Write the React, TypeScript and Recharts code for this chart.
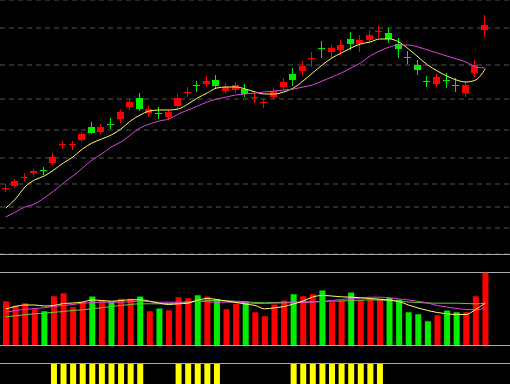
import { Bar, BarChart, CartesianGrid, Cell, ComposedChart, Line, XAxis, YAxis } from "recharts";

// daily candles (price units, 51 sessions)
const opens = [10.65, 10.68, 10.76, 10.81, 10.84, 10.91, 11.09, 11.09, 11.14, 11.27, 11.22, 11.3, 11.35, 11.47, 11.56, 11.41, 11.41, 11.37, 11.48, 11.61, 11.69, 11.7, 11.74, 11.63, 11.64, 11.65, 11.56, 11.51, 11.57, 11.67, 11.8, 11.83, 11.95, 12.06, 12.02, 12.04, 12.15, 12.1, 12.14, 12.22, 12.21, 12.1, 11.97, 11.89, 11.73, 11.7, 11.74, 11.69, 11.61, 11.81, 12.24];
const highs = [10.7, 10.75, 10.81, 10.85, 10.87, 11.01, 11.13, 11.13, 11.22, 11.32, 11.3, 11.36, 11.44, 11.55, 11.61, 11.48, 11.47, 11.44, 11.6, 11.67, 11.73, 11.78, 11.79, 11.71, 11.72, 11.7, 11.61, 11.55, 11.66, 11.76, 11.86, 11.93, 12.02, 12.13, 12.09, 12.14, 12.22, 12.19, 12.24, 12.28, 12.26, 12.16, 12.03, 11.94, 11.78, 11.8, 11.81, 11.76, 11.72, 11.94, 12.39];
const lows = [10.62, 10.66, 10.73, 10.77, 10.79, 10.89, 11.05, 11.04, 11.12, 11.2, 11.2, 11.25, 11.31, 11.44, 11.43, 11.37, 11.35, 11.34, 11.45, 11.57, 11.62, 11.67, 11.65, 11.61, 11.61, 11.57, 11.51, 11.46, 11.55, 11.64, 11.68, 11.78, 11.87, 11.96, 11.96, 11.99, 12.04, 12.02, 12.11, 12.16, 12.11, 11.96, 11.9, 11.79, 11.67, 11.67, 11.66, 11.62, 11.57, 11.77, 12.17];
const closes = [10.66, 10.73, 10.77, 10.83, 10.83, 10.97, 11.1, 11.1, 11.2, 11.21, 11.27, 11.29, 11.42, 11.52, 11.45, 11.45, 11.4, 11.42, 11.56, 11.62, 11.68, 11.73, 11.68, 11.67, 11.69, 11.6, 11.57, 11.52, 11.63, 11.72, 11.74, 11.88, 11.96, 12.05, 12.06, 12.09, 12.1, 12.14, 12.19, 12.23, 12.15, 12.05, 11.96, 11.84, 11.72, 11.77, 11.73, 11.68, 11.69, 11.89, 12.29];

// moving averages as drawn (they carry history from before the window)
const ma5 = [10.46, 10.55, 10.67, 10.74, 10.78, 10.84, 10.91, 10.97, 11.05, 11.11, 11.15, 11.19, 11.25, 11.33, 11.39, 11.43, 11.44, 11.44, 11.45, 11.5, 11.56, 11.61, 11.66, 11.67, 11.67, 11.65, 11.62, 11.6, 11.6, 11.62, 11.66, 11.73, 11.81, 11.89, 11.96, 12.01, 12.06, 12.1, 12.12, 12.15, 12.15, 12.12, 12.05, 11.97, 11.89, 11.83, 11.78, 11.74, 11.72, 11.74, 11.85];
const ma10 = [10.37, 10.42, 10.47, 10.5, 10.56, 10.63, 10.71, 10.78, 10.86, 10.94, 11.0, 11.07, 11.12, 11.19, 11.26, 11.3, 11.33, 11.35, 11.4, 11.44, 11.48, 11.52, 11.55, 11.57, 11.59, 11.6, 11.61, 11.62, 11.63, 11.64, 11.65, 11.67, 11.69, 11.73, 11.77, 11.81, 11.86, 11.91, 11.98, 12.03, 12.07, 12.09, 12.09, 12.07, 12.04, 12.01, 11.98, 11.95, 11.92, 11.87, 11.86];

// volume (hands) and its averages
const volumes = [44300, 40000, 42300, 36700, 34300, 49300, 52300, 38300, 43300, 49000, 45000, 43300, 46700, 46700, 49000, 34300, 37000, 35000, 48300, 47300, 50300, 49000, 46300, 36300, 41700, 44000, 33300, 29300, 41000, 45000, 51300, 49300, 51300, 55000, 43300, 45000, 53000, 45700, 45700, 46300, 47700, 45700, 33300, 31300, 24300, 30300, 35000, 33300, 33300, 49300, 72700];
const volMa5 = [36500, 39000, 40500, 40500, 39500, 40000, 42000, 42500, 43500, 45500, 45000, 44300, 45000, 45700, 45700, 44300, 42300, 41000, 41700, 42300, 45300, 47000, 46000, 44500, 43000, 41500, 40000, 36700, 37700, 39000, 41500, 44500, 48500, 50000, 49500, 48700, 48300, 47700, 47000, 46300, 45500, 44000, 40500, 37500, 35000, 33000, 31700, 31000, 31000, 36000, 42300];
const volMa10 = [33300, 35000, 36000, 37000, 37700, 39000, 40000, 41000, 42300, 42800, 43300, 43300, 43300, 43800, 44300, 43800, 43300, 43300, 43300, 43800, 44300, 43800, 43300, 43300, 43300, 42800, 42000, 42000, 42300, 42500, 42800, 43000, 43300, 44000, 45000, 46000, 47000, 47500, 48300, 48300, 47700, 46500, 45500, 44300, 42500, 40000, 38500, 37000, 36000, 35700, 37700];
const volMa20 = [28700, 29700, 30700, 31700, 32300, 33200, 34000, 35000, 35700, 36700, 37700, 39000, 40000, 41000, 41700, 41700, 41700, 42000, 42300, 43300, 44300, 44700, 45000, 44700, 44300, 43700, 43000, 42700, 43000, 43200, 43300, 43500, 43800, 44000, 44300, 44500, 45000, 45300, 45700, 45500, 45000, 44300, 43500, 43000, 42500, 42300, 42300, 42300, 42000, 41700, 42300];

// signal strip: 1 where the indicator fires
const signals = [0, 0, 0, 0, 0, 1, 1, 1, 1, 1, 1, 1, 1, 1, 1, 0, 0, 0, 1, 1, 1, 1, 1, 0, 0, 0, 0, 0, 0, 0, 1, 1, 1, 1, 1, 1, 1, 1, 1, 1, 0, 0, 0, 0, 0, 0, 0, 0, 0, 0, 0];

const priceGrid = [10.26, 10.47, 10.7, 10.96, 11.24, 11.55, 11.89, 12.26];
const volGrid = [73000, 91000];
const sigGrid = [1.025, 1.925];

const UP = "#ff0000";
const DOWN = "#00ee00";
const W = 510;
const PAD = { left: 1, right: 20 };

const rows = opens.map((o, i) => ({
  i,
  open: o,
  high: highs[i],
  low: lows[i],
  close: closes[i],
  ma5: ma5[i],
  ma10: ma10[i],
  vol: volumes[i],
  vma5: volMa5[i],
  vma10: volMa10[i],
  vma20: volMa20[i],
  sig: signals[i],
}));

function Candle(props: any) {
  const { x, y, width, height, payload } = props;
  if (!payload) return null;
  const { open, close, high, low } = payload;
  const color = close >= open ? UP : DOWN;
  const top = Math.min(y, y + height);
  const span = Math.abs(height);
  const k = span / (high - low || 1);
  const yOf = (v: number) => top + (high - v) * k;
  const bodyTop = yOf(Math.max(open, close));
  const bodyH = Math.max(1, Math.abs(yOf(open) - yOf(close)));
  const cx = Math.round(x + width / 2) - 0.5;
  return (
    <g shapeRendering="crispEdges">
      <line x1={cx} x2={cx} y1={top} y2={top + span} stroke={color} strokeWidth={1} />
      <rect x={cx - 3.5} y={bodyTop} width={7} height={bodyH} fill={color} />
    </g>
  );
}

const lineProps = { type: "monotone" as const, strokeWidth: 1, dot: false, activeDot: false, isAnimationActive: false };

export default function App() {
  return (
    <div style={{ position: "fixed", left: 0, top: 0, width: W, height: 384, background: "#000", overflow: "hidden" }}>
      <div style={{ position: "absolute", left: 0, top: 0 }}>
        <ComposedChart width={W} height={254} data={rows} margin={{ top: 0, right: 0, bottom: 0, left: 0 }}>
          <CartesianGrid vertical={false} stroke="#555" strokeDasharray="5 4" />
          <XAxis dataKey="i" hide padding={PAD} />
          <YAxis hide domain={[10, 12.54]} ticks={priceGrid} interval={0} allowDataOverflow />
          <Bar dataKey={(d: any) => [d.low, d.high]} barSize={7} shape={<Candle />} isAnimationActive={false} />
          <Line {...lineProps} dataKey="ma5" stroke="#ffff55" />
          <Line {...lineProps} dataKey="ma10" stroke="#dd44dd" />
        </ComposedChart>
      </div>
      <div style={{ position: "absolute", left: 0, top: 254 }}>
        <ComposedChart width={W} height={92} data={rows} margin={{ top: 0.5, right: 0, bottom: 0.5, left: 0 }}>
          <CartesianGrid vertical={false} stroke="#aaa" horizontalValues={volGrid} />
          <XAxis dataKey="i" hide padding={PAD} />
          <YAxis hide domain={[0, 91000]} ticks={volGrid} interval={0} allowDataOverflow />
          <Bar dataKey="vol" barSize={6} isAnimationActive={false}>
            {rows.map((r) => (
              <Cell key={r.i} fill={r.close >= r.open ? UP : DOWN} />
            ))}
          </Bar>
          <Line {...lineProps} dataKey="vma20" stroke="#66cc33" />
          <Line {...lineProps} dataKey="vma10" stroke="#dd44dd" />
          <Line {...lineProps} dataKey="vma5" stroke="#ffff66" />
        </ComposedChart>
      </div>
      <div style={{ position: "absolute", left: 0, top: 345 }}>
        <BarChart width={W} height={39} data={rows} margin={{ top: 0.5, right: 0, bottom: 0, left: 0 }}>
          <CartesianGrid vertical={false} stroke="#aaa" horizontalValues={sigGrid} />
          <XAxis dataKey="i" hide padding={PAD} />
          <YAxis hide domain={[0, 1.925]} ticks={sigGrid} interval={0} allowDataOverflow />
          <Bar dataKey="sig" barSize={6} fill="#ffff00" isAnimationActive={false} />
        </BarChart>
      </div>
    </div>
  );
}
